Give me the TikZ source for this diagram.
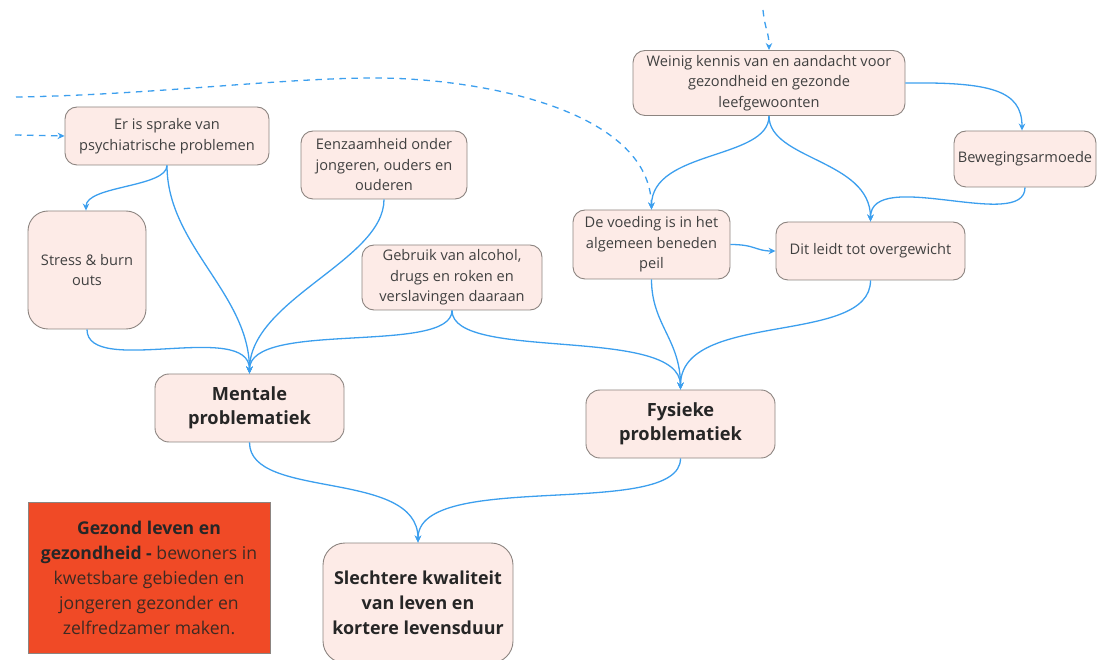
\documentclass[tikz,border=0pt]{standalone}
\usepackage{fontspec}
\setmainfont{Open Sans}
\usetikzlibrary{arrows.meta}
\definecolor{connc}{HTML}{3C9FEE}
\definecolor{boxfill}{HTML}{FDEBE7}
\definecolor{boxline}{HTML}{8C8480}
\definecolor{txt}{HTML}{404040}
\definecolor{titletxt}{HTML}{262626}
\definecolor{redfill}{HTML}{F04A26}
\definecolor{redtxt}{HTML}{3E2A22}
\begin{document}
\begin{tikzpicture}[x=1pt,y=-1pt,
  box/.style={draw=boxline, fill=boxfill, rounded corners=12pt, line width=0.9pt,
    align=center, inner sep=0pt, text=txt, font=\fontsize{14.6}{20.5}\selectfont},
  bigbox/.style={box, rounded corners=14pt, text=titletxt, font=\fontsize{18.2}{24.5}\selectfont\bfseries},
  conn/.style={draw=connc, line width=1.3pt, -{Stealth[length=7pt,width=6.5pt]}},
  dconn/.style={conn, dash pattern=on 6.5pt off 5.5pt}]
\useasboundingbox (0,0) rectangle (1104,660);
\clip (0,0) rectangle (1104,660);

% nodes
\node[box, minimum width=204pt, minimum height=58pt] (psych) at (167,136) {Er is sprake van\\psychiatrische problemen};
\node[box, minimum width=166pt, minimum height=68pt] (eenz) at (384,165) {Eenzaamheid onder\\jongeren, ouders en\\ouderen};
\node[box, rounded corners=20pt, minimum width=118pt, minimum height=118pt] (stress) at (87,270) {Stress \& burn\\outs};
\node[box, minimum width=180pt, minimum height=65pt] (gebruik) at (452,277.5) {Gebruik van alcohol,\\drugs en roken en\\verslavingen daaraan};
\node[bigbox, minimum width=189pt, minimum height=68pt] (mentale) at (249.5,408) {Mentale\\problematiek};
\node[box, minimum width=272pt, minimum height=65pt] (weinig) at (769,83) {Weinig kennis van en aandacht voor\\gezondheid en gezonde\\leefgewoonten};
\node[box, minimum width=142pt, minimum height=56pt] (beweg) at (1025,159) {Bewegingsarmoede};
\node[box, minimum width=157pt, minimum height=69pt] (voeding) at (651.5,244.5) {De voeding is in het\\algemeen beneden\\peil};
\node[box, minimum width=189pt, minimum height=58pt] (dit) at (870.5,251) {Dit leidt tot overgewicht};
\node[bigbox, minimum width=189pt, minimum height=68pt] (fysiek) at (680.5,424) {Fysieke\\problematiek};
\node[bigbox, rounded corners=22pt, minimum width=190pt, minimum height=120pt,
  font=\fontsize{17.9}{25}\selectfont\bfseries] (slecht) at (418,603) {Slechtere kwaliteit\\van leven en\\kortere levensduur};
\node[draw=boxline, fill=redfill, line width=0.9pt, minimum width=242pt, minimum height=151pt,
  inner sep=0pt, align=center, text=redtxt, font=\fontsize{17.6}{25}\selectfont] (goal) at (149,577.5)
  {\textcolor{titletxt}{\bfseries Gezond leven en}\\\textcolor{titletxt}{\bfseries gezondheid -} bewoners in\\kwetsbare gebieden en\\jongeren gezonder en\\zelfredzamer maken.};

% free ends of dashed connectors
\coordinate (dA) at (16,97);
\coordinate (dB) at (15,135);
\coordinate (dC) at (763,10);

% dashed connectors
\draw[dconn] (dA) .. controls (150,95) and (280,78) .. (375,78)
  .. controls (480,78) and (650,110) .. (voeding.north);
\draw[dconn] (dB) -- (psych.west);
\draw[dconn] (dC) .. controls (765,30) and (769,32) .. (weinig.north);

% solid connectors
\draw[conn] (psych.south) .. controls +(0,22) and +(0,-25) .. ([xshift=-1pt]stress.north);
\draw[conn] (psych.south) .. controls +(0,80) and +(0,-80) .. (mentale.north);
\draw[conn] (eenz.south) .. controls +(0,61) and +(0,-74) .. (mentale.north);
\draw[conn] (stress.south) .. controls +(0,48) and +(0,-54) .. (mentale.north);
\draw[conn] (gebruik.south) .. controls +(0,45) and +(0,-54) .. (mentale.north);
\draw[conn] (gebruik.south) .. controls +(0,52) and +(0,-65) .. (fysiek.north);
\draw[conn] (voeding.south) .. controls +(0,45) and +(0,-50) .. (fysiek.north);
\draw[conn] (dit.south) .. controls +(0,66) and +(0,-80) .. (fysiek.north);
\draw[conn] (weinig.south) .. controls +(0,44) and +(0,-60) .. (voeding.north);
\draw[conn] (weinig.south) .. controls +(0,44) and +(0,-62) .. (dit.north);
\draw[conn] (weinig.east) .. controls (990,82) and ([xshift=-3pt]beweg.north |- 0,90) .. ([xshift=-3pt]beweg.north);
\draw[conn] (beweg.south) .. controls +(0,45) and +(0,-55) .. (dit.north);
\draw[conn] (voeding.east) .. controls +(25,0) and +(-20,0) .. (dit.west);
\draw[conn] (mentale.south) .. controls +(0,58) and +(0,-74) .. (slecht.north);
\draw[conn] (fysiek.south) .. controls +(0,62) and +(0,-74) .. (slecht.north);
\end{tikzpicture}
\end{document}
